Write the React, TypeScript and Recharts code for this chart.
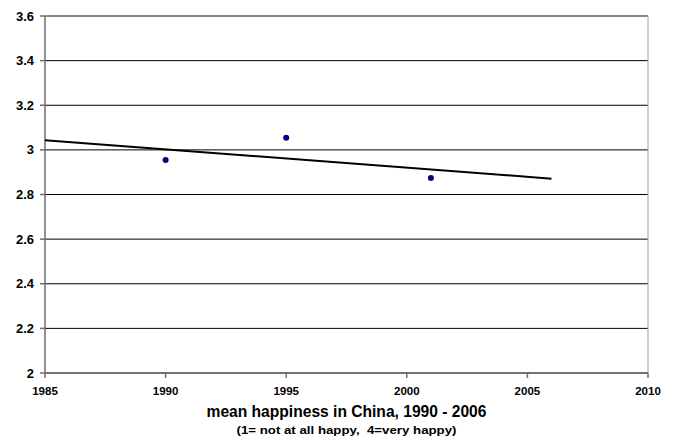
import React from 'react';
import { ScatterChart, Scatter, XAxis, YAxis, CartesianGrid, ReferenceLine } from 'recharts';

// survey years and mean happiness (1 = not at all happy, 4 = very happy)
const years = [1990, 1995, 2001];
const happiness = [2.955, 3.054, 2.874];

// linear trend
const trendYears = [1985, 2006];
const trendValues = [3.043, 2.871];

const xTicks = [1985, 1990, 1995, 2000, 2005, 2010];
const yTicks = [2, 2.2, 2.4, 2.6, 2.8, 3, 3.2, 3.4, 3.6];

const points = years.map((y, i) => ({ year: y, value: happiness[i] }));
const trend = trendYears.map((y, i) => ({ year: y, value: trendValues[i] }));

const FONT = '"Liberation Sans", Arial, sans-serif';
const AXIS = '#6e6e6e';

const App: React.FC = () => {
    return (
        <div style={{ position: 'absolute', left: 0, top: 0, width: 679, height: 441, background: '#fff' }}>
            <ScatterChart width={679} height={441} margin={{ top: 16, right: 31, left: 0, bottom: 38 }}>
                <CartesianGrid vertical={false} stroke="#000" strokeWidth={1} />
                <XAxis
                    type="number"
                    dataKey="year"
                    domain={[1985, 2010]}
                    ticks={xTicks}
                    height={30}
                    stroke={AXIS}
                    strokeWidth={1.5}
                    tickSize={5}
                    tickMargin={9}
                    tick={{ fill: '#000', fontSize: 11.5, fontWeight: 'bold', fontFamily: FONT }}
                />
                <YAxis
                    type="number"
                    dataKey="value"
                    domain={[2, 3.6]}
                    ticks={yTicks}
                    width={45}
                    stroke={AXIS}
                    strokeWidth={1.5}
                    tickSize={5}
                    tickMargin={6}
                    tick={{ fill: '#000', fontSize: 13, fontWeight: 'bold', fontFamily: FONT }}
                />
                <ReferenceLine y={3.6} stroke="#8c8c8c" strokeWidth={1.5} />
                <ReferenceLine x={2010} stroke="#a0a0a0" strokeWidth={1} />
                <Scatter
                    data={trend}
                    line={{ stroke: '#000', strokeWidth: 2 }}
                    lineJointType="linear"
                    shape={() => <g />}
                    isAnimationActive={false}
                />
                <Scatter data={points} fill="#000080" isAnimationActive={false} shape={(p: any) => <circle cx={p.cx} cy={p.cy} r={3} fill="#000080" />} />
            </ScatterChart>
            <svg width={679} height={441} style={{ position: 'absolute', left: 0, top: 0, pointerEvents: 'none' }}>
                <text x={346.5} y={417} textAnchor="middle" fontFamily={FONT} fontWeight="bold" fontSize={15.6}>
                    mean happiness in China, 1990 - 2006
                </text>
                <text x={346.5} y={434} textAnchor="middle" fontFamily={FONT} fontWeight="bold" fontSize={11.5}
                    xmlSpace="preserve" textLength={220} lengthAdjust="spacingAndGlyphs" style={{ whiteSpace: 'pre' }}>
                    (1= not at all happy,  4=very happy)
                </text>
            </svg>
        </div>
    );
};

export default App;
